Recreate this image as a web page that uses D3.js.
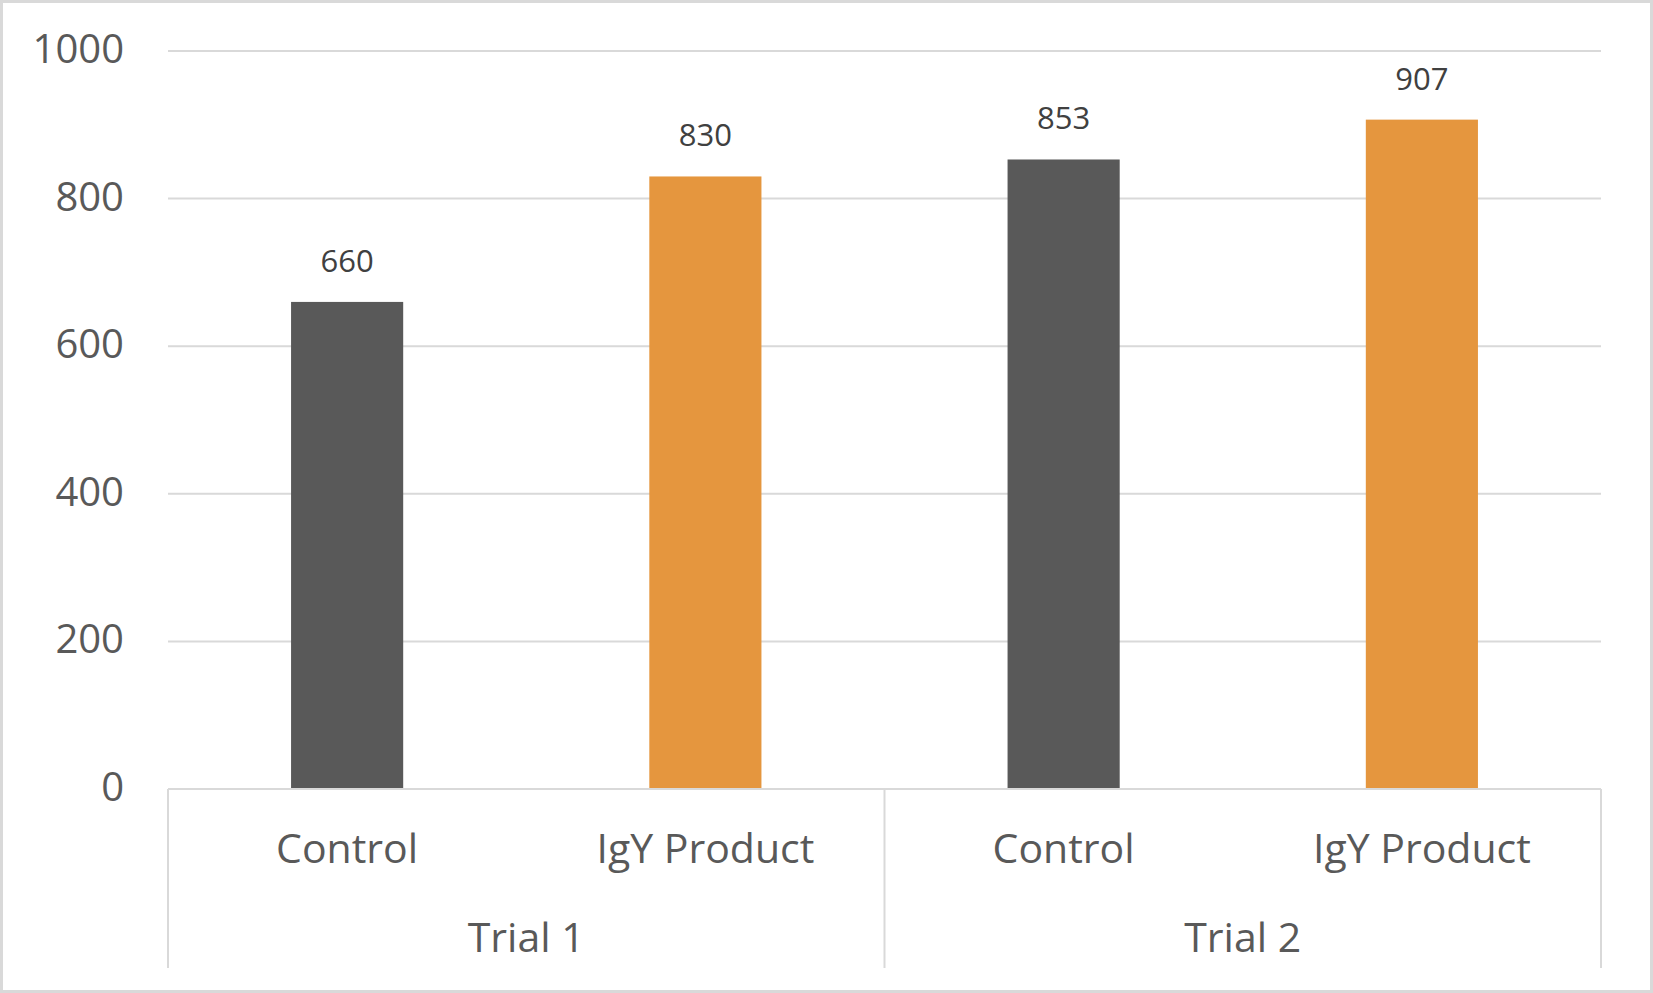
<!DOCTYPE html>
<html>
<head>
<meta charset="utf-8">
<script src="https://cdn.jsdelivr.net/npm/d3@7"></script>
<style>
  body { margin: 0; background: #fff; }
  svg { display: block; font-family: "Open Sans", sans-serif; }
</style>
</head>
<body>
<div id="chart"></div>
<script>
// data
const groups = ['Trial 1', 'Trial 2']
const treatments = ['Control', 'IgY Product']
const values = [660, 830, 853, 907]      // Trial 1 Control, Trial 1 IgY, Trial 2 Control, Trial 2 IgY
const yTicks = [0, 200, 400, 600, 800, 1000]
const colors = ['#595959', '#E5963E']

const W = 1653, H = 993
const margin = { top: 51, right: 52, bottom: 204, left: 168 }

const svg = d3.select('#chart').append('svg')
    .attr('width', W)
    .attr('height', H)

// chart border
svg.append('rect')
    .attr('x', 1.5).attr('y', 1.5)
    .attr('width', W - 3).attr('height', H - 3)
    .attr('fill', '#fff')
    .attr('stroke', '#D9D9D9')
    .attr('stroke-width', 3)

const cats = []
groups.forEach(g => treatments.forEach(t => cats.push(g + '|' + t)))
const rows = cats.map((c, i) => ({ key: c, group: c.split('|')[0], name: c.split('|')[1], value: values[i], ti: i % 2 }))

const x = d3.scaleBand()
    .domain(cats)
    .range([margin.left, W - margin.right])
    .paddingInner(0.687)
    .paddingOuter(0.3435)

const y = d3.scaleLinear()
    .domain([0, 1000])
    .range([H - margin.bottom, margin.top])

// gridlines
svg.append('g')
    .selectAll('line')
    .data(yTicks.filter(d => d > 0))
    .enter().append('line')
    .attr('x1', margin.left).attr('x2', W - margin.right)
    .attr('y1', d => y(d)).attr('y2', d => y(d))
    .attr('stroke', '#D9D9D9')
    .attr('stroke-width', 2)

// y tick labels
svg.append('g')
    .selectAll('text')
    .data(yTicks)
    .enter().append('text')
    .attr('x', 124)
    .attr('y', d => y(d) + 12)
    .attr('text-anchor', 'end')
    .style('font-size', '40px')
    .style('fill', '#595959')
    .text(d => d)

// bars
svg.append('g')
    .selectAll('rect')
    .data(rows)
    .enter().append('rect')
    .attr('x', d => x(d.key))
    .attr('width', x.bandwidth())
    .attr('y', d => y(d.value))
    .attr('height', d => y(0) - y(d.value))
    .attr('fill', d => colors[d.ti])

// data labels
svg.append('g')
    .selectAll('text')
    .data(rows)
    .enter().append('text')
    .attr('x', d => x(d.key) + x.bandwidth() / 2)
    .attr('y', d => y(d.value) - 30)
    .attr('text-anchor', 'middle')
    .style('font-size', '31px')
    .style('fill', '#404040')
    .text(d => d.value)

// category axis
const axisG = svg.append('g').attr('stroke', '#D9D9D9').attr('stroke-width', 2)
axisG.append('line')
    .attr('x1', margin.left).attr('x2', W - margin.right)
    .attr('y1', y(0)).attr('y2', y(0))

const step = x.step()
const groupEdges = [0, 2, 4].map(i => margin.left + i * step)
axisG.selectAll('.div')
    .data(groupEdges)
    .enter().append('line')
    .attr('x1', d => d).attr('x2', d => d)
    .attr('y1', y(0)).attr('y2', 968)

svg.append('g')
    .selectAll('text')
    .data(rows)
    .enter().append('text')
    .attr('x', d => x(d.key) + x.bandwidth() / 2)
    .attr('y', 863)
    .attr('text-anchor', 'middle')
    .style('font-size', '41px')
    .style('fill', '#595959')
    .text(d => d.name)

svg.append('g')
    .selectAll('text')
    .data(groups)
    .enter().append('text')
    .attr('x', (d, i) => (groupEdges[i] + groupEdges[i + 1]) / 2)
    .attr('y', 952)
    .attr('text-anchor', 'middle')
    .style('font-size', '41px')
    .style('fill', '#595959')
    .text(d => d)
</script>
</body>
</html>
